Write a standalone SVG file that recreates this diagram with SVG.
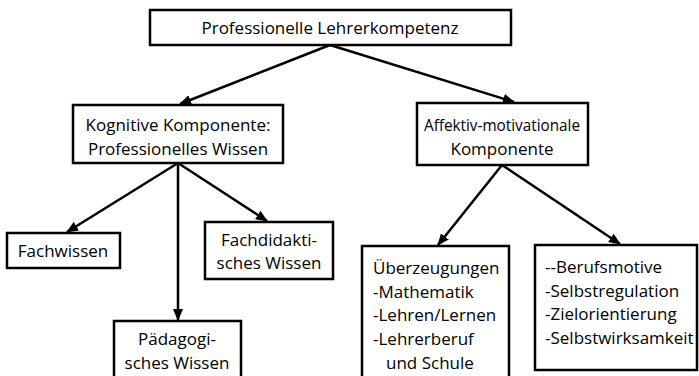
<svg xmlns="http://www.w3.org/2000/svg" width="699" height="376" viewBox="0 0 699 376">
<defs>
<marker id="ah" markerWidth="12" markerHeight="10" refX="11" refY="5" orient="auto" markerUnits="userSpaceOnUse">
<path d="M0,0 L12,5 L0,10 Z" fill="#000"/>
</marker>
<style>
.box{fill:#fff;stroke:#000;stroke-width:2.5}
.t{font-family:"Open Sans","Noto Sans",sans-serif;font-size:17px;fill:#000}
.c{text-anchor:middle}
.e{stroke:#000;stroke-width:2.5;fill:none;marker-end:url(#ah)}
</style>
</defs>
<rect width="699" height="376" fill="#fff"/>
<g id="connectors">
<line class="e" x1="330" y1="45" x2="180" y2="104"/>
<line class="e" x1="330" y1="45" x2="514" y2="102"/>
<line class="e" x1="178" y1="163" x2="67" y2="232"/>
<line class="e" x1="178" y1="163" x2="267" y2="221"/>
<line class="e" x1="178" y1="163" x2="178" y2="320"/>
<line class="e" x1="502" y1="165" x2="438" y2="245"/>
<line class="e" x1="502" y1="165" x2="620" y2="244"/>
</g>
<g id="n-root">
<rect class="box" x="150" y="10" width="361" height="35"/>
<text class="t c" x="330" y="34">Professionelle Lehrerkompetenz</text>
</g>
<g id="n-kognitiv">
<rect class="box" x="73" y="105" width="210" height="58"/>
<text class="t c" x="178" y="131">Kognitive Komponente:</text>
<text class="t c" x="178" y="155">Professionelles Wissen</text>
</g>
<g id="n-affektiv">
<rect class="box" x="417" y="103" width="171" height="62"/>
<text class="t c" x="502" y="131" textLength="156" lengthAdjust="spacingAndGlyphs">Affektiv-motivationale</text>
<text class="t c" x="502" y="155">Komponente</text>
</g>
<g id="n-fachwissen">
<rect class="box" x="7" y="233" width="113" height="35"/>
<text class="t c" x="63" y="257">Fachwissen</text>
</g>
<g id="n-fachdidaktik">
<rect class="box" x="205" y="222" width="128" height="57"/>
<text class="t c" x="269" y="246">Fachdidakti-</text>
<text class="t c" x="269" y="269">sches Wissen</text>
</g>
<g id="n-paedagogik">
<rect class="box" x="114" y="321" width="127" height="60"/>
<text class="t c" x="177" y="345">Pädagogi-</text>
<text class="t c" x="177" y="369">sches Wissen</text>
</g>
<g id="n-ueberzeugungen">
<rect class="box" x="362" y="246" width="147" height="135"/>
<text class="t" x="373" y="274">Überzeugungen</text>
<text class="t" x="373" y="298">-Mathematik</text>
<text class="t" x="373" y="321">-Lehren/Lernen</text>
<text class="t" x="373" y="345">-Lehrerberuf</text>
<text class="t" x="386" y="369">und Schule</text>
</g>
<g id="n-motive">
<rect class="box" x="535" y="245" width="162" height="125"/>
<text class="t" x="545" y="273">--Berufsmotive</text>
<text class="t" x="545" y="297">-Selbstregulation</text>
<text class="t" x="545" y="320">-Zielorientierung</text>
<text class="t" x="545" y="344">-Selbstwirksamkeit</text>
</g>
</svg>
